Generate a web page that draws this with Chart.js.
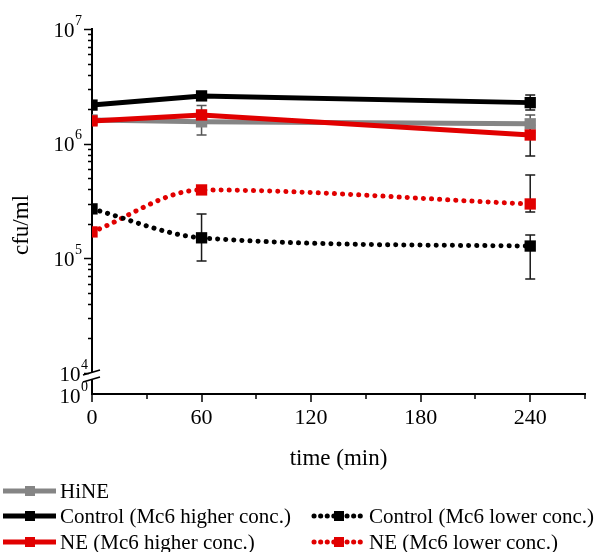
<!DOCTYPE html>
<html>
<head>
<meta charset="utf-8">
<script src="https://cdn.jsdelivr.net/npm/chart.js@4.4.1/dist/chart.umd.min.js"></script>
<style>
  html, body { margin: 0; padding: 0; background: #fff; }
  #wrap { width: 596px; height: 552px; }
</style>
</head>
<body>
<div id="wrap"><canvas id="cfuChart" width="596" height="552"></canvas></div>
<script>
// ── Data ─────────────────────────────────────────────────────
const times       = [0, 60, 240];
const xTicks      = [0, 60, 120, 180, 240];
const xMinorTicks = [30, 90, 150, 210, 270];
const yDecades    = [1e4, 1e5, 1e6, 1e7];

const hine     = [1.61e6, 1.55e6, 1.49e6];
const ctrlHigh = [2.17e6, 2.61e6, 2.28e6];
const neHigh   = [1.58e6, 1.78e6, 1.19e6];
const ctrlLow  = [2.70e5, 1.51e5, 1.28e5];
const neLow    = [1.70e5, 3.95e5, 2.98e5];

// error bar ends (null = none visible)
const hineErrLo     = [null, 1.19e6, 1.25e6];
const hineErrHi     = [null, 2.15e6, 1.78e6];
const ctrlHighErrLo = [null, 2.45e6, 1.97e6];
const ctrlHighErrHi = [null, 2.75e6, 2.66e6];
const neHighErrLo   = [null, 1.62e6, 7.8e5];
const neHighErrHi   = [null, 1.95e6, 1.45e6];
const ctrlLowErrLo  = [null, 9.5e4, 6.6e4];
const ctrlLowErrHi  = [null, 2.44e5, 1.60e5];
const neLowErrLo    = [null, 3.7e5, 2.54e5];
const neLowErrHi    = [null, 4.2e5, 5.33e5];

const GRAY = '#858585';
const RED  = '#e10000';
const BLACK = '#000000';
const FONT = "'Liberation Serif', 'DejaVu Serif', serif";

function pts(vals) {
    return times.map((t, i) => ({ x: t, y: vals[i] }));
}

function series(label, vals, color, dotted, order, lo, hi) {
    return {
        label: label,
        data: pts(vals),
        borderColor: color,
        backgroundColor: color,
        borderWidth: 5,
        borderDash: dotted ? [0.1, 8] : [],
        borderCapStyle: dotted ? 'round' : 'butt',
        cubicInterpolationMode: dotted ? 'monotone' : 'default',
        tension: 0,
        pointStyle: 'rect',
        pointRadius: 8,
        pointBorderWidth: 0,
        pointBackgroundColor: color,
        clip: 0,
        order: order,
        errLo: lo,
        errHi: hi,
        dotted: dotted,
    };
}

// ── Decorations: error bars, ticks, axis break, labels, legend ─
const decor = {
    id: 'decor',
    beforeDatasetsDraw(chart) {
        const ctx = chart.ctx, xs = chart.scales.x, ys = chart.scales.y;
        const a = chart.chartArea;
        ctx.save();
        ctx.beginPath();
        ctx.rect(a.left, a.top - 10, a.right - a.left, a.bottom - a.top + 10);
        ctx.clip();
        chart.data.datasets.forEach(ds => {
            times.forEach((t, i) => {
                if (ds.errLo[i] == null) return;
                const x = xs.getPixelForValue(t);
                const y1 = ys.getPixelForValue(ds.errLo[i]);
                const y2 = ys.getPixelForValue(ds.errHi[i]);
                ctx.strokeStyle = ds.borderColor === GRAY ? '#555' : '#1a1a1a';
                ctx.lineWidth = 1.5;
                ctx.beginPath();
                ctx.moveTo(x, y1); ctx.lineTo(x, y2);
                ctx.moveTo(x - 5, y1); ctx.lineTo(x + 5, y1);
                ctx.moveTo(x - 5, y2); ctx.lineTo(x + 5, y2);
                ctx.stroke();
            });
        });
        ctx.restore();
    },
    afterDraw(chart) {
        const ctx = chart.ctx, xs = chart.scales.x, ys = chart.scales.y;
        const a = chart.chartArea;
        ctx.save();
        ctx.strokeStyle = '#000';
        ctx.lineWidth = 1.5;

        // y ticks (major + minor), outward
        ctx.beginPath();
        for (let d = 4; d <= 7; d++) {
            for (let m = 1; m <= (d === 7 ? 1 : 9); m++) {
                const y = Math.round(ys.getPixelForValue(m * Math.pow(10, d))) + 0.5;
                const len = m === 1 ? 8 : 4;
                ctx.moveTo(a.left - len, y);
                ctx.lineTo(a.left, y);
            }
        }
        // x ticks
        xTicks.forEach(v => {
            const x = Math.round(xs.getPixelForValue(v));
            ctx.moveTo(x, a.bottom); ctx.lineTo(x, a.bottom + 8);
        });
        xMinorTicks.forEach(v => {
            const x = Math.round(xs.getPixelForValue(v));
            ctx.moveTo(x, a.bottom); ctx.lineTo(x, a.bottom + 5);
        });
        ctx.stroke();

        // axis break
        const yb1 = 372.5, yb2 = 379.5;
        ctx.fillStyle = '#fff';
        ctx.beginPath();
        ctx.moveTo(a.left - 3, yb1 + 1); ctx.lineTo(a.left + 3, yb1 - 1);
        ctx.lineTo(a.left + 3, yb2 - 1); ctx.lineTo(a.left - 3, yb2 + 1);
        ctx.closePath();
        ctx.fill();
        ctx.lineWidth = 1.6;
        ctx.beginPath();
        [yb1, yb2].forEach(yb => {
            ctx.moveTo(a.left - 9, yb + 2.6);
            ctx.lineTo(a.left + 8, yb - 2.4);
        });
        ctx.stroke();

        // y tick labels 10^n
        ctx.fillStyle = '#000';
        const pow = (rightX, y, exp) => {
            ctx.font = '14px ' + FONT;
            const sw = ctx.measureText(String(exp)).width;
            ctx.textAlign = 'left';
            ctx.textBaseline = 'middle';
            ctx.fillText(String(exp), rightX - sw, y - 8);
            ctx.font = '21px ' + FONT;
            ctx.textAlign = 'right';
            ctx.fillText('10', rightX - sw - 0.5, y + 2);
        };
        yDecades.forEach(v => {
            const e = Math.round(Math.log10(v));
            pow(e === 4 ? 88 : 82, ys.getPixelForValue(v), e);
        });
        pow(88, a.bottom + 1, 0);

        // axis titles
        ctx.font = '23px ' + FONT;
        ctx.textAlign = 'center';
        ctx.textBaseline = 'middle';
        ctx.fillText('time (min)', (a.left + a.right) / 2, 459);
        ctx.save();
        ctx.translate(22, 225);
        ctx.rotate(-Math.PI / 2);
        ctx.fillText('cfu/ml', 0, 0);
        ctx.restore();

        // legend
        const ds = chart.data.datasets;
        const slots = [
            [0, 3, 491],
            [1, 3, 516],
            [2, 3, 542],
            [3, 312, 516],
            [4, 312, 542],
        ];
        slots.forEach(([i, x0, y]) => {
            const d = ds[i];
            ctx.save();
            ctx.strokeStyle = d.borderColor;
            ctx.lineWidth = 5;
            ctx.setLineDash(d.dotted ? [0.1, 6.5] : []);
            ctx.lineCap = d.dotted ? 'round' : 'butt';
            ctx.beginPath();
            ctx.moveTo(x0 + (d.dotted ? 2 : 0), y);
            ctx.lineTo(x0 + 53, y);
            ctx.stroke();
            ctx.fillStyle = d.borderColor;
            ctx.fillRect(x0 + 22, y - 5, 10, 10);
            ctx.restore();
            ctx.fillStyle = '#000';
            ctx.font = '21px ' + FONT;
            ctx.textAlign = 'left';
            ctx.textBaseline = 'middle';
            ctx.fillText(d.label, x0 + 57, y + 1);
        });
        ctx.restore();
    },
};

new Chart(document.getElementById('cfuChart'), {
    type: 'line',
    data: {
        datasets: [
            series('HiNE', hine, GRAY, false, 3, hineErrLo, hineErrHi),
            series('Control (Mc6 higher conc.)', ctrlHigh, BLACK, false, 1, ctrlHighErrLo, ctrlHighErrHi),
            series('NE (Mc6 higher conc.)', neHigh, RED, false, 2, neHighErrLo, neHighErrHi),
            series('Control (Mc6 lower conc.)', ctrlLow, BLACK, true, 4, ctrlLowErrLo, ctrlLowErrHi),
            series('NE (Mc6 lower conc.)', neLow, RED, true, 5, neLowErrLo, neLowErrHi),
        ],
    },
    options: {
        responsive: false,
        animation: false,
        layout: { padding: { left: 0, top: 29, right: 11, bottom: 0 } },
        plugins: { legend: { display: false }, tooltip: { enabled: false } },
        scales: {
            x: {
                type: 'linear',
                min: 0,
                max: 270,
                afterBuildTicks: s => { s.ticks = xTicks.map(v => ({ value: v })); },
                afterFit: s => { s.height = 158; },
                grid: { display: false, drawTicks: false },
                border: { display: true, color: '#000', width: 2 },
                ticks: {
                    color: '#000',
                    padding: 11,
                    maxRotation: 0,
                    font: { family: FONT, size: 22 },
                },
            },
            y: {
                type: 'logarithmic',
                min: Math.pow(10, 4 - 21 / 114.7),
                max: 1e7,
                afterBuildTicks: s => { s.ticks = yDecades.map(v => ({ value: v })); },
                afterFit: s => { s.width = 92; },
                grid: { display: false, drawTicks: false },
                border: { display: true, color: '#000', width: 2 },
                ticks: { display: false },
            },
        },
    },
    plugins: [decor],
});
</script>
</body>
</html>
